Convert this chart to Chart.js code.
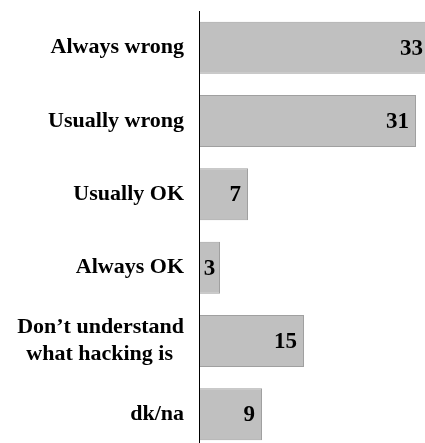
<!DOCTYPE html>
<html>
<head>
<meta charset="utf-8">
<script src="https://cdn.jsdelivr.net/npm/chart.js@4"></script>
<style>
  html, body { margin: 0; padding: 0; background: #fff; overflow: hidden; }
  #clip { width: 425px; height: 443px; overflow: hidden; position: relative; }
  #wrap { width: 430px; height: 451px; position: absolute; left: 0; top: 0; }
</style>
</head>
<body>
<div id="clip"><div id="wrap"><canvas id="c"></canvas></div></div>
<script>
const categories = [
  'Always wrong',
  'Usually wrong',
  'Usually OK',
  'Always OK',
  ['Don\u2019t understand', 'what hacking is\u00A0\u00A0'],
  'dk/na'
];
const values = [33, 31, 7, 3, 15, 9];

const FONT = '"Liberation Serif", "Times New Roman", serif';

const valueLabels = {
  id: 'valueLabels',
  afterDatasetsDraw(chart) {
    const ctx = chart.ctx;
    const meta = chart.getDatasetMeta(0);
    ctx.save();
    ctx.font = 'bold 23px ' + FONT;
    ctx.fillStyle = '#000';
    ctx.textBaseline = 'middle';
    meta.data.forEach((bar, i) => {
      const txt = String(values[i]);
      const w = ctx.measureText(txt).width;
      const barW = bar.x - bar.base;
      let x;
      if (barW < w + 12) {
        ctx.textAlign = 'center';
        x = (bar.x + bar.base) / 2;
      } else {
        ctx.textAlign = 'right';
        x = bar.x - 7;
      }
      ctx.fillText(txt, x, bar.y + 1);
    });
    ctx.restore();
  }
};

new Chart(document.getElementById('c'), {
  type: 'bar',
  data: {
    labels: categories,
    datasets: [{
      data: values,
      backgroundColor: '#c0c0c0',
      borderColor: '#a0a0a0',
      borderWidth: 1,
      barPercentage: 0.71,
      categoryPercentage: 1
    }]
  },
  options: {
    indexAxis: 'y',
    responsive: true,
    maintainAspectRatio: false,
    animation: false,
    layout: { padding: { left: 0, right: 0, top: 11, bottom: 0 } },
    plugins: { legend: { display: false }, tooltip: { enabled: false } },
    scales: {
      x: {
        display: false,
        min: 0,
        max: 33
      },
      y: {
        grid: { display: false, drawTicks: false },
        border: { display: true, color: '#000', width: 1, z: 1 },
        ticks: {
          color: '#000',
          padding: 15,
          font: { family: FONT, size: 22, weight: 'bold', lineHeight: 1.2 }
        },
        afterFit(scale) {
          scale.width = 199;
          scale.paddingTop = 0;
          scale.paddingBottom = 0;
        }
      }
    }
  },
  plugins: [valueLabels]
});
</script>
</body>
</html>
